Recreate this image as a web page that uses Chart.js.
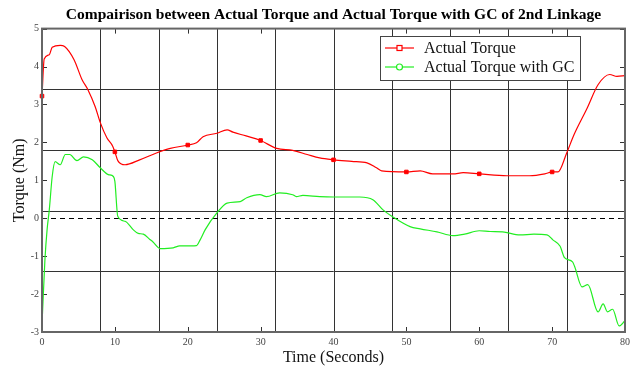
<!DOCTYPE html>
<html>
<head>
<meta charset="utf-8">
<script src="https://cdn.jsdelivr.net/npm/chart.js@4.4.1/dist/chart.umd.min.js"></script>
<style>
  html, body { margin: 0; padding: 0; background: #fff; }
  #wrap { width: 642px; height: 367px; }
</style>
</head>
<body>
<div id="wrap"><canvas id="torque"></canvas></div>
<script>
// torque traces, time in seconds / torque in Nm
const actualTime = [0, 0.3, 1.0, 1.4, 2.5, 3.1, 4.4, 5.5, 6.3, 7.3, 8.0, 8.9, 9.7, 10, 10.4, 11.4, 13.4, 15.7, 17.6, 20,
  21.2, 22.1, 24, 25.4, 26.2, 28, 30, 32.2, 34.4, 36.4, 38.1, 40, 42.5, 44.6, 45.9, 46.6, 50, 51.9, 53.6, 56.4,
  57.8, 60, 63.8, 66.9, 69, 70, 70.8, 72, 73, 74.8, 76.3, 77.9, 78.9, 80];
const actualTorque = [3.22, 4.2, 4.31, 4.51, 4.56, 4.53, 4.18, 3.65, 3.39, 2.94, 2.52, 2.12, 1.9, 1.75, 1.52, 1.41, 1.54, 1.72, 1.84, 1.93,
  1.99, 2.15, 2.24, 2.33, 2.27, 2.17, 2.05, 1.84, 1.79, 1.68, 1.59, 1.54, 1.5, 1.46, 1.33, 1.25, 1.22, 1.25, 1.17, 1.17,
  1.2, 1.17, 1.12, 1.12, 1.17, 1.22, 1.22, 1.72, 2.2, 2.9, 3.52, 3.79, 3.74, 3.76];

const gcTime = [0, 0.4, 0.7, 1.0, 1.4, 1.8, 2.5, 3.2, 3.8, 4.8, 5.7, 6.9, 8.0, 9.1, 9.8, 10.0, 10.4, 11.4, 12.5, 13.2,
  13.9, 14.8, 15.2, 16.2, 18, 18.9, 21.2, 21.7, 22.4, 24, 25.4, 27.2, 28.1, 29.9, 30.8, 32.6, 34.4, 34.9, 35.8, 38.1,
  40, 43.6, 45.4, 46.8, 48.1, 50.5, 51.9, 54.2, 56.4, 58, 60, 61.5, 63.2, 65.6, 67.5, 69.3, 70.1, 71.1, 71.7, 72.8,
  73.1, 74.1, 74.9, 76.3, 77, 77.6, 78.3, 79.2, 80];
const gcTorque = [-2.81, -1.1, -0.3, 0.22, 1.1, 1.49, 1.41, 1.68, 1.68, 1.52, 1.62, 1.54, 1.33, 1.15, 1.1, 0.97, 0.05, -0.08, -0.3, -0.4,
  -0.42, -0.56, -0.62, -0.8, -0.78, -0.73, -0.72, -0.57, -0.3, 0.14, 0.4, 0.44, 0.54, 0.62, 0.57, 0.67, 0.62, 0.57, 0.6, 0.57,
  0.56, 0.56, 0.49, 0.22, 0.04, -0.22, -0.28, -0.36, -0.46, -0.42, -0.33, -0.35, -0.36, -0.44, -0.42, -0.44, -0.57, -0.74, -1.04, -1.15,
  -1.28, -1.81, -1.75, -2.47, -2.26, -2.47, -2.4, -2.84, -2.7];

// symbols every 10 s on the red trace
const symbolTimes = [0, 10, 20, 30, 40, 50, 60, 70];

// extra grid lines, zero reference
const gridX = [8, 16, 24, 32, 40, 48, 56, 64, 72];
const gridY = [-1.4, 0.2, 1.8, 3.4];
const zeroLine = 0;

const seriesNames = ['Actual Torque', 'Actual Torque with GC'];
const RED = '#ff0000';
const GREEN = '#22ee22';
const SERIF = "'Liberation Serif', 'DejaVu Serif', serif";

const toPoints = (xs, ys) => xs.map((x, i) => ({ x: x, y: ys[i] }));

const gridPlugin = {
  id: 'plotFrame',
  beforeDatasetsDraw(chart) {
    const { ctx, chartArea: a, scales } = chart;
    const sx = scales.x, sy = scales.y;
    ctx.save();
    ctx.strokeStyle = '#333';
    ctx.lineWidth = 1;
    gridX.forEach(v => {
      const px = Math.round(sx.getPixelForValue(v)) + 0.5;
      ctx.beginPath(); ctx.moveTo(px, a.top); ctx.lineTo(px, a.bottom); ctx.stroke();
    });
    gridY.forEach(v => {
      const py = Math.round(sy.getPixelForValue(v)) + 0.5;
      ctx.beginPath(); ctx.moveTo(a.left, py); ctx.lineTo(a.right, py); ctx.stroke();
    });
    // dashed zero line
    ctx.strokeStyle = '#000';
    ctx.setLineDash([5, 4]);
    const pz = Math.round(sy.getPixelForValue(zeroLine)) + 0.5;
    ctx.beginPath(); ctx.moveTo(a.left, pz); ctx.lineTo(a.right, pz); ctx.stroke();
    ctx.setLineDash([]);

    // inward tick marks on all four sides
    ctx.strokeStyle = '#333';
    sx.ticks.forEach(t => {
      const px = Math.round(sx.getPixelForValue(t.value)) + 0.5;
      ctx.beginPath();
      ctx.moveTo(px, a.bottom); ctx.lineTo(px, a.bottom - 5);
      ctx.moveTo(px, a.top); ctx.lineTo(px, a.top + 5);
      ctx.stroke();
    });
    sy.ticks.forEach(t => {
      const py = Math.round(sy.getPixelForValue(t.value)) + 0.5;
      ctx.beginPath();
      ctx.moveTo(a.left, py); ctx.lineTo(a.left + 5, py);
      ctx.moveTo(a.right, py); ctx.lineTo(a.right - 5, py);
      ctx.stroke();
    });
    ctx.restore();
  },
  afterDraw(chart) {
    const { ctx, chartArea: a } = chart;
    ctx.save();
    ctx.strokeStyle = '#666';
    ctx.lineWidth = 2;
    ctx.strokeRect(a.left, a.top, a.right - a.left, a.bottom - a.top);

    // legend box
    const bx = 380, by = 36, bw = 200, bh = 44;
    ctx.fillStyle = '#fff';
    ctx.fillRect(bx, by, bw, bh);
    ctx.strokeStyle = '#444';
    ctx.lineWidth = 1;
    ctx.strokeRect(bx + 0.5, by + 0.5, bw, bh);
    const rows = [
      { name: seriesNames[0], color: RED, y: by + 12, mark: 'rect' },
      { name: seriesNames[1], color: GREEN, y: by + 31, mark: 'circle' }
    ];
    ctx.font = '16px ' + SERIF;
    ctx.textBaseline = 'middle';
    rows.forEach(r => {
      ctx.strokeStyle = r.color;
      ctx.lineWidth = 1.2;
      ctx.beginPath(); ctx.moveTo(bx + 5, r.y); ctx.lineTo(bx + 34, r.y); ctx.stroke();
      ctx.fillStyle = '#fff';
      if (r.mark === 'rect') {
        ctx.fillRect(bx + 17, r.y - 2.5, 5, 5);
        ctx.strokeRect(bx + 17, r.y - 2.5, 5, 5);
      } else {
        ctx.beginPath(); ctx.arc(bx + 19.5, r.y, 3, 0, Math.PI * 2); ctx.fill(); ctx.stroke();
      }
      ctx.fillStyle = '#111';
      ctx.fillText(r.name, bx + 44, r.y + 1);
    });
    ctx.restore();
  }
};

const ctx = document.getElementById('torque');

new Chart(ctx, {
  type: 'line',
  data: {
    datasets: [{
      label: seriesNames[0],
      data: toPoints(actualTime, actualTorque),
      borderColor: RED,
      backgroundColor: RED,
      borderWidth: 1.2,
      cubicInterpolationMode: 'monotone',
      pointStyle: 'rect',
      pointRadius: c => symbolTimes.includes(c.raw && c.raw.x) ? 2.5 : 0,
      pointBorderWidth: 1,
      clip: 4,
      fill: false
    }, {
      label: seriesNames[1],
      data: toPoints(gcTime, gcTorque),
      borderColor: GREEN,
      backgroundColor: GREEN,
      borderWidth: 1.2,
      cubicInterpolationMode: 'monotone',
      pointRadius: 0,
      fill: false
    }]
  },
  plugins: [gridPlugin],
  options: {
    responsive: true,
    maintainAspectRatio: false,
    animation: false,
    layout: { padding: { left: 0, right: 17, top: 0, bottom: 0 } },
    scales: {
      x: {
        type: 'linear',
        min: 0,
        max: 80,
        grid: { display: false, drawTicks: false },
        border: { display: false },
        ticks: { stepSize: 10, color: '#444', padding: 4, font: { family: SERIF, size: 10 } },
        title: { display: true, text: 'Time (Seconds)', color: '#111', padding: { top: 0, bottom: 0 }, font: { family: SERIF, size: 16 } },
        afterFit: s => { s.height = 35; }
      },
      y: {
        type: 'linear',
        min: -3,
        max: 5,
        grid: { display: false, drawTicks: false },
        border: { display: false },
        ticks: { stepSize: 1, color: '#444', padding: 3, font: { family: SERIF, size: 10 } },
        title: { display: true, text: 'Torque (Nm)', color: '#111', padding: { top: 10, bottom: 0 }, font: { family: SERIF, size: 16 } },
        afterFit: s => { s.width = 42; }
      }
    },
    plugins: {
      legend: { display: false },
      tooltip: { enabled: false },
      title: {
        display: true,
        fullSize: false,
        text: 'Compairison between Actual Torque and Actual Torque with GC of 2nd Linkage',
        color: '#000',
        padding: { top: 6, bottom: 4 },
        font: { family: SERIF, size: 15.5, weight: 'bold' }
      }
    }
  }
});
</script>
</body>
</html>
